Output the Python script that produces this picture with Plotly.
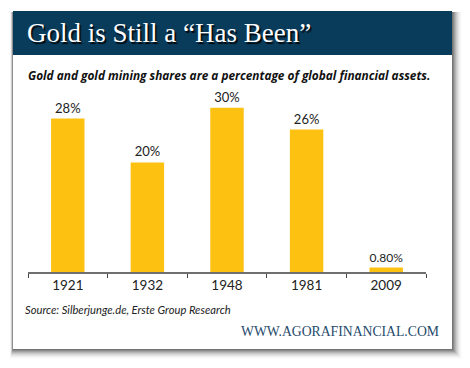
import plotly.graph_objects as go

years = ["1921", "1932", "1948", "1981", "2009"]
values = [28, 20, 30, 26, 0.8]
labels = ["28%", "20%", "30%", "26%", "0.80%"]

title_text = "Gold is Still a \u201cHas Been\u201d"
subtitle_text = "Gold and gold mining shares are a percentage of global financial assets."
source_text = "Source: Silberjunge.de, Erste Group Research"
footer_text = "WWW.AGORAFINANCIAL.COM"

# page body has an 8px margin; design in reference pixels and shift
OFF = 8
W, H = 470 - OFF, 368 - OFF
AX_L, AX_R, AX_T, AX_B = 28, 426, 100, 272  # plot area in reference (page) pixels
ML, MR, MT, MB = AX_L - OFF, 470 - AX_R, AX_T - OFF, 368 - AX_B
PW, PH = AX_R - AX_L, AX_B - AX_T


def px(x):
    return (x - AX_L) / PW


def py(y):
    return (AX_B - y) / PH


fig = go.Figure()
fig.add_trace(go.Bar(
    x=years, y=values, text=labels, textposition="outside",
    textfont=dict(family="Lato, Open Sans, sans-serif", size=13, color="#222222"),
    marker=dict(color="#FDC112", line=dict(width=0)),
    width=0.42, cliponaxis=False, hoverinfo="skip",
))

shapes = []
# card shadow
for i, op in enumerate([0.16, 0.13, 0.11, 0.09, 0.07, 0.055, 0.04, 0.03, 0.02, 0.012]):
    d = i + 1
    shapes.append(dict(type="rect", xref="paper", yref="paper",
                       x0=px(13 - d * 0.3), x1=px(452 + d), y0=py(349 + d), y1=py(12),
                       fillcolor="rgba(0,0,0,%.3f)" % op, line=dict(width=0), layer="below"))
# card
shapes.append(dict(type="rect", xref="paper", yref="paper",
                   x0=px(13), x1=px(452), y0=py(349), y1=py(11),
                   fillcolor="white", line=dict(width=0), layer="below"))
# title band
shapes.append(dict(type="rect", xref="paper", yref="paper",
                   x0=px(13), x1=px(452), y0=py(55), y1=py(11),
                   fillcolor="#093b5b", line=dict(width=0), layer="below"))


def ann(text, x, y, font, xanchor="left"):
    return dict(text=text, x=px(x), y=py(y), xref="paper", yref="paper",
                xanchor=xanchor, yanchor="middle", showarrow=False, font=font)


annotations = [
    ann(title_text, 25, 33, dict(size=27, family="Liberation Serif, serif", color="white",
                                  shadow="1.5px 1.5px 1px rgba(0,0,0,0.9)")),
    ann(subtitle_text, 26, 75, dict(size=11.85, family="Open Sans, sans-serif", color="#111111",
                                    weight="bold", style="italic")),
    ann(source_text, 23, 309, dict(size=11.2, family="Lato, sans-serif", color="#222222",
                                   style="italic")),
    ann(footer_text, 441, 331, dict(size=13.7, family="Liberation Serif, serif", color="#1e4a6b"),
        xanchor="right"),
]

fig.update_layout(
    width=W, height=H, autosize=False,
    margin=dict(l=ML, r=MR, t=MT, b=MB),
    paper_bgcolor="white", plot_bgcolor="rgba(0,0,0,0)",
    shapes=shapes, annotations=annotations, showlegend=False,
)
fig.update_xaxes(type="category", showline=True, linecolor="#6f6f6f", linewidth=1.5,
                 ticks="outside", tickson="boundaries", ticklen=4, tickcolor="#444444",
                 tickwidth=1, showgrid=False, zeroline=False,
                 tickfont=dict(family="Lato, sans-serif", size=13.5, color="#222222"))
fig.update_yaxes(range=[0, 31.4], visible=False, showgrid=False, zeroline=False)

fig.write_html("out.html")
